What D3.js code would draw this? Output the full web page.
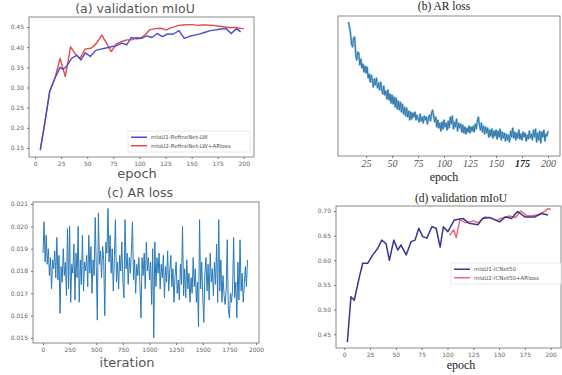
<!DOCTYPE html>
<html>
<head>
<meta charset="utf-8">
<script src="https://cdn.jsdelivr.net/npm/d3@7/dist/d3.min.js"></script>
<style>
  body { margin: 0; background: #fff; }
  svg { display: block; }
</style>
</head>
<body>
<div id="chart"></div>
<script>
// (a) validation mIoU, RefineNet-LW
const epochA1 = [5, 10, 14, 19, 24, 27, 30, 35, 40, 44, 48, 53, 58, 63, 68, 73, 78, 83, 88, 92, 97, 102, 107, 112, 117, 122, 127, 132, 138, 143, 148, 153, 158, 163, 168, 173, 178, 183, 188, 193, 197];
const miouA1 = [0.145, 0.223, 0.29, 0.323, 0.35, 0.345, 0.352, 0.372, 0.38, 0.368, 0.386, 0.377, 0.392, 0.395, 0.398, 0.401, 0.404, 0.41, 0.406, 0.424, 0.421, 0.422, 0.428, 0.424, 0.434, 0.426, 0.433, 0.432, 0.441, 0.422, 0.427, 0.43, 0.433, 0.437, 0.441, 0.443, 0.445, 0.446, 0.434, 0.446, 0.438];
const epochA2 = [5, 10, 14, 19, 24, 27, 29, 34, 38, 43, 48, 54, 59, 64, 68, 73, 78, 83, 88, 93, 97, 101, 106, 110, 115, 120, 126, 130, 134, 138, 142, 147, 151, 156, 160, 164, 170, 177, 182, 187, 192, 196, 200];
const miouA2 = [0.145, 0.223, 0.29, 0.323, 0.372, 0.345, 0.327, 0.401, 0.385, 0.372, 0.395, 0.398, 0.41, 0.43, 0.412, 0.389, 0.408, 0.414, 0.418, 0.418, 0.424, 0.422, 0.432, 0.443, 0.446, 0.447, 0.443, 0.448, 0.451, 0.454, 0.455, 0.456, 0.456, 0.454, 0.455, 0.455, 0.454, 0.452, 0.45, 0.448, 0.449, 0.447, 0.446];
const legendA = ["mIoU1-RefineNet-LW", "mIoU2-RefineNet-LW+ARloss"];

// (b) AR loss per epoch (epochs 8..200, unlabeled axis, units of 1e-3)
const epochStartB = 8;
const lossB = [28.4, 27.9, 27.3, 26.2, 25.9, 26.8, 26.9, 25.2, 24.6, 25.4, 25.3, 24.1, 24.7,
  23.8, 24.2, 23.4, 24.0, 23.3, 23.9, 22.8, 23.2, 22.4, 23.1, 22.6, 21.9, 22.7, 22.1, 22.8,
  21.8, 22.3, 21.6, 22.4, 21.7, 21.2, 22.0, 21.1, 21.5, 20.7, 21.6, 20.6, 21.2, 20.3, 21.1,
  20.2, 20.9, 19.9, 20.8, 19.7, 20.5, 19.6, 20.4, 19.4, 20.2, 19.2, 19.9, 19.0, 19.8, 18.9,
  19.5, 18.6, 19.4, 18.7, 19.3, 18.9, 19.4, 18.6, 19.1, 18.7, 18.4, 19.2, 18.5, 18.9, 18.3,
  19.0, 18.6, 18.9, 18.2, 18.8, 19.1, 18.5, 19.3, 19.6, 19.0, 18.4, 18.9, 17.9, 18.6, 17.8,
  18.3, 17.5, 18.4, 17.7, 18.6, 17.9, 18.3, 17.6, 18.5, 17.8, 18.9, 18.2, 19.0, 17.7, 18.4,
  17.9, 18.7, 17.5, 18.3, 17.8, 18.2, 17.4, 18.1, 17.3, 17.9, 17.2, 17.8, 17.4, 18.0, 17.3,
  17.9, 17.5, 18.0, 17.4, 18.2, 17.7, 18.5, 18.9, 18.1, 17.6, 18.3, 17.4, 18.0, 17.2, 17.9,
  17.3, 17.8, 16.9, 17.6, 17.0, 17.7, 16.8, 17.5, 17.0, 17.6, 16.7, 17.5, 16.9, 17.7, 16.6,
  17.4, 16.8, 17.3, 16.5, 17.2, 16.6, 17.1, 16.4, 17.5, 16.9, 17.8, 16.8, 17.4, 16.6, 17.3,
  16.8, 17.6, 16.7, 17.2, 16.6, 17.4, 16.9, 17.3, 16.5, 17.1, 16.7, 17.5, 16.8, 17.2, 16.6,
  17.6, 16.9, 17.7, 16.4, 17.3, 16.6, 17.5, 16.3, 17.4, 16.9, 17.6, 16.5, 17.2, 17.0, 17.5];
const ticksB = [25, 50, 75, 100, 125, 150, 175, 200];

// (c) AR loss per iteration (every 10 iterations)
const iterStepC = 10;
const lossC = [
  0.0188, 0.0202, 0.0184, 0.0196, 0.0183, 0.0190, 0.0178, 0.0186, 0.0172, 0.0185,
  0.0181, 0.0189, 0.0177, 0.0195, 0.0176, 0.0187, 0.0161, 0.0182, 0.0175, 0.0190,
  0.0178, 0.0184, 0.0169, 0.0199, 0.0172, 0.0200, 0.0166, 0.0183, 0.0179, 0.0192,
  0.0167, 0.0188, 0.0177, 0.0200, 0.0166, 0.0185, 0.0174, 0.0196, 0.0171, 0.0184,
  0.0180, 0.0187, 0.0173, 0.0196, 0.0179, 0.0191, 0.0170, 0.0185, 0.0178, 0.0204,
  0.0182, 0.0158, 0.0206, 0.0183, 0.0189, 0.0177, 0.0191, 0.0185, 0.0160, 0.0193,
  0.0188, 0.0208, 0.0184, 0.0196, 0.0179, 0.0190, 0.0171, 0.0186, 0.0203, 0.0175,
  0.0184, 0.0172, 0.0187, 0.0180, 0.0193, 0.0176, 0.0168, 0.0203, 0.0181, 0.0188,
  0.0174, 0.0186, 0.0179, 0.0189, 0.0202, 0.0176, 0.0185, 0.0170, 0.0183, 0.0178,
  0.0186, 0.0174, 0.0159, 0.0186, 0.0178, 0.0188, 0.0172, 0.0193, 0.0180, 0.0186,
  0.0176, 0.0184, 0.0165, 0.0190, 0.0150, 0.0193, 0.0173, 0.0186, 0.0179, 0.0188,
  0.0172, 0.0183, 0.0177, 0.0187, 0.0168, 0.0182, 0.0175, 0.0189, 0.0171, 0.0180,
  0.0187, 0.0173, 0.0181, 0.0166, 0.0178, 0.0184, 0.0170, 0.0176, 0.0167, 0.0183,
  0.0174, 0.0200, 0.0169, 0.0181, 0.0168, 0.0185, 0.0172, 0.0179, 0.0166, 0.0177,
  0.0170, 0.0186, 0.0173, 0.0181, 0.0166, 0.0175, 0.0155, 0.0203, 0.0172, 0.0184,
  0.0168, 0.0157, 0.0179, 0.0186, 0.0171, 0.0183, 0.0167, 0.0188, 0.0175, 0.0181,
  0.0169, 0.0184, 0.0174, 0.0192, 0.0166, 0.0203, 0.0171, 0.0185, 0.0166, 0.0178,
  0.0169, 0.0165, 0.0172, 0.0194, 0.0163, 0.0159, 0.0170, 0.0166, 0.0172, 0.0195,
  0.0168, 0.0175, 0.0159, 0.0184, 0.0167, 0.0194, 0.0171, 0.0179, 0.0166, 0.0174,
  0.0182, 0.0173, 0.0185];
const ticksCx = [0, 250, 500, 750, 1000, 1250, 1500, 1750, 2000];
const ticksCy = [0.015, 0.016, 0.017, 0.018, 0.019, 0.020, 0.021];

// (d) validation mIoU, ICNet50
const epochD1 = [3, 6.5, 9.7, 14.6, 17.9, 22.7, 27.6, 32.4, 36.3, 40.5, 43.7, 48, 51.8, 55, 60, 64.8, 68.6, 72.2, 76, 80, 84.9, 89, 92.9, 96, 100.4, 106.7, 115, 121, 129.5, 134, 140.5, 150.5, 156, 162, 168, 175, 184.7, 191, 197.5];
const miouD1 = [0.434, 0.526, 0.519, 0.566, 0.594, 0.594, 0.611, 0.624, 0.641, 0.634, 0.60, 0.641, 0.621, 0.631, 0.611, 0.638, 0.641, 0.665, 0.648, 0.645, 0.668, 0.665, 0.627, 0.668, 0.658, 0.682, 0.685, 0.675, 0.672, 0.685, 0.687, 0.678, 0.688, 0.685, 0.699, 0.688, 0.688, 0.695, 0.692];
const epochD2 = [102, 106, 108.5, 112, 118, 125, 130, 136, 142, 148, 153, 160, 166, 171, 177, 183, 189, 194, 197.5, 200];
const miouD2 = [0.651, 0.662, 0.646, 0.682, 0.676, 0.680, 0.676, 0.688, 0.686, 0.681, 0.686, 0.690, 0.687, 0.700, 0.690, 0.691, 0.693, 0.699, 0.705, 0.703];
const legendD = ["mIoU1-ICNet50", "mIoU2-ICNet50+ARloss"];

const ticksEpoch = [0, 25, 50, 75, 100, 125, 150, 175, 200];

const svg = d3.select("#chart").append("svg")
  .attr("width", 562).attr("height", 375);

const sans = "'DejaVu Sans', sans-serif";
const serif = "'Liberation Serif', 'Times New Roman', serif";

function frame(box) {
  svg.append("rect")
    .attr("x", box.x0).attr("y", box.y0)
    .attr("width", box.x1 - box.x0).attr("height", box.y1 - box.y0)
    .attr("fill", "#fff").attr("stroke", "#8a8a8a").attr("stroke-width", 1);
}

function styleAxis(g, font, size, color, italic) {
  g.select(".domain").remove();
  g.selectAll(".tick line").attr("stroke", "#777");
  g.selectAll(".tick text")
    .style("font-family", font).style("font-size", size + "px")
    .style("font-style", italic ? "italic" : "normal")
    .attr("fill", color);
}

function drawLine(x, y, xs, ys, color, width) {
  svg.append("path")
    .datum(xs.map((d, i) => [d, ys[i]]))
    .attr("fill", "none")
    .attr("stroke", color)
    .attr("stroke-width", width)
    .attr("stroke-linejoin", "round")
    .attr("d", d3.line().x(d => x(d[0])).y(d => y(d[1])));
}

function legend(box, labels, colors, size) {
  svg.append("rect")
    .attr("x", box.x).attr("y", box.y).attr("width", box.w).attr("height", box.h)
    .attr("fill", "#fff").attr("stroke", "#ddd").attr("stroke-width", 0.6);
  labels.forEach((t, i) => {
    const cy = box.y + box.h * (i + 0.5) / labels.length + (i === 0 ? 1 : -1);
    svg.append("line")
      .attr("x1", box.x + 3).attr("x2", box.x + 19)
      .attr("y1", cy).attr("y2", cy)
      .attr("stroke", colors[i]).attr("stroke-width", 1.5);
    svg.append("text")
      .attr("x", box.x + 23).attr("y", cy + size * 0.35)
      .style("font-family", sans).style("font-size", size + "px")
      .attr("fill", "#555").text(t);
  });
}

function title(xc, yb, text, font, size, color) {
  svg.append("text")
    .attr("x", xc).attr("y", yb).attr("text-anchor", "middle")
    .style("font-family", font).style("font-size", size + "px")
    .style("font-weight", "normal")
    .attr("fill", color).text(text);
}

// ---------- (a) ----------
{
  const box = { x0: 29, x1: 254, y0: 17, y1: 157 };
  frame(box);
  const x = d3.scaleLinear().domain([-5.8, 209.8]).range([box.x0, box.x1]);
  const y = d3.scaleLinear().domain([0.1277, 0.4748]).range([box.y1, box.y0]);
  const ax = svg.append("g").attr("transform", `translate(0,${box.y1})`)
    .call(d3.axisBottom(x).tickValues(ticksEpoch).tickSize(2).tickPadding(3));
  styleAxis(ax, sans, 6, "#666");
  const ay = svg.append("g").attr("transform", `translate(${box.x0},0)`)
    .call(d3.axisLeft(y).tickValues([0.15, 0.2, 0.25, 0.3, 0.35, 0.4, 0.45]).tickSize(2).tickPadding(3).tickFormat(d3.format(".2f")));
  styleAxis(ay, sans, 6, "#666");
  drawLine(x, y, epochA2, miouA2, "#e34a4a", 1.4);
  drawLine(x, y, epochA1, miouA1, "#4b4bd0", 1.4);
  legend({ x: 128, y: 131, w: 122, h: 21 }, legendA, ["#4b4bd0", "#e34a4a"], 5.5);
  title(135, 13, "(a) validation mIoU", sans, 12.5, "#555");
  title(137, 178, "epoch", sans, 13, "#555");
}

// ---------- (b) ----------
{
  const box = { x0: 338, x1: 560, y0: 16, y1: 156 };
  frame(box);
  const x = d3.scaleLinear().domain([-2, 211.5]).range([box.x0, box.x1]);
  const y = d3.scaleLinear().domain([15.0, 29.0]).range([box.y1, box.y0]);
  const ax = svg.append("g").attr("transform", `translate(0,${box.y1})`)
    .call(d3.axisBottom(x).tickValues(ticksB).tickSize(2).tickPadding(2));
  styleAxis(ax, serif, 10, "#555", true);
  ax.selectAll(".tick text").filter(d => d === 175).attr("fill", "#222").style("font-weight", "bold");
  const xsB = lossB.map((d, i) => epochStartB + i);
  drawLine(x, y, xsB, lossB, "#8cc4ea", 2.2);
  drawLine(x, y, xsB, lossB, "#2f6e9c", 0.9);
  title(444, 10, "(b) AR loss", serif, 11.5, "#222");
  title(444, 181, "epoch", serif, 12, "#222");
}

// ---------- (c) ----------
{
  const box = { x0: 33, x1: 259, y0: 202, y1: 343 };
  frame(box);
  const x = d3.scaleLinear().domain([-94, 2028]).range([box.x0, box.x1]);
  const y = d3.scaleLinear().domain([0.014776, 0.02109]).range([box.y1, box.y0]);
  const ax = svg.append("g").attr("transform", `translate(0,${box.y1})`)
    .call(d3.axisBottom(x).tickValues(ticksCx).tickSize(2).tickPadding(3).tickFormat(d3.format("d")));
  styleAxis(ax, sans, 6, "#666");
  const ay = svg.append("g").attr("transform", `translate(${box.x0},0)`)
    .call(d3.axisLeft(y).tickValues(ticksCy).tickSize(2).tickPadding(3).tickFormat(d3.format(".3f")));
  styleAxis(ay, sans, 6, "#666");
  const xsC = lossC.map((d, i) => i * iterStepC);
  drawLine(x, y, xsC, lossC, "#2a7ab8", 1);
  title(140, 197, "(c) AR loss", sans, 12.5, "#555");
  title(127, 367, "iteration", sans, 13, "#555");
}

// ---------- (d) ----------
{
  const box = { x0: 336, x1: 561, y0: 206, y1: 348 };
  frame(box);
  const x = d3.scaleLinear().domain([-8, 210]).range([box.x0, box.x1]);
  const y = d3.scaleLinear().domain([0.4221, 0.7102]).range([box.y1, box.y0]);
  const ax = svg.append("g").attr("transform", `translate(0,${box.y1})`)
    .call(d3.axisBottom(x).tickValues(ticksEpoch).tickSize(2).tickPadding(3));
  styleAxis(ax, sans, 6, "#666");
  const ay = svg.append("g").attr("transform", `translate(${box.x0},0)`)
    .call(d3.axisLeft(y).tickValues([0.45, 0.5, 0.55, 0.6, 0.65, 0.7]).tickSize(2).tickPadding(3).tickFormat(d3.format(".2f")));
  styleAxis(ay, sans, 6, "#666");
  drawLine(x, y, epochD2, miouD2, "#e86a78", 1.5);
  drawLine(x, y, epochD1, miouD1, "#363690", 1.5);
  legend({ x: 451, y: 263, w: 110, h: 21 }, legendD, ["#363690", "#e86a78"], 5.5);
  title(461, 202, "(d) validation mIoU", serif, 11.5, "#222");
  title(461, 369, "epoch", serif, 12, "#222");
}
</script>
</body>
</html>
